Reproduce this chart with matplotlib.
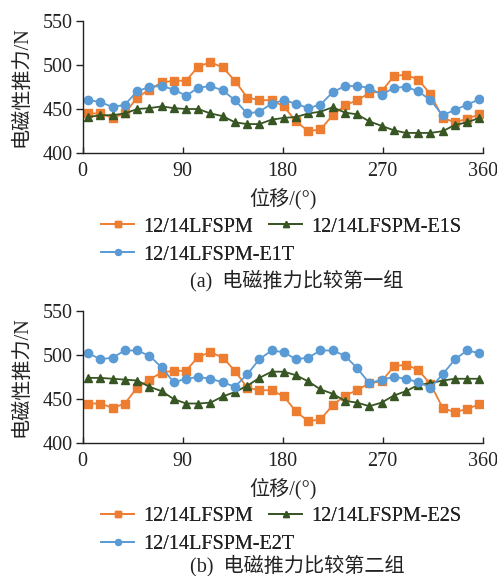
import matplotlib
matplotlib.use("Agg")
import matplotlib.pyplot as plt
import numpy as np

# ---- data ----
x_deg = [5 + 11 * i for i in range(33)]

lfspm = [445, 445, 440, 445, 463, 472, 480, 482, 482, 498, 503, 497, 482, 463, 460, 460,
         453, 436, 425, 427, 443, 454, 460, 468, 470, 487, 489, 483, 467, 440, 435, 439, 444]

e1t = [460, 458, 452, 455, 470, 475, 476, 472, 465, 474, 476, 471, 460, 445, 447, 456,
       460, 456, 451, 455, 469, 476, 476, 474, 466, 474, 475, 470, 460, 443, 449, 455, 461]

e1s = [441, 443, 443, 445, 450, 451, 453, 451, 450, 450, 445, 442, 435, 433, 433, 438,
       440, 441, 445, 447, 452, 446, 444, 436, 431, 426, 423, 423, 423, 425, 432, 435, 440]

e2t = [502, 495, 497, 505, 505, 499, 486, 469, 473, 475, 473, 469, 464, 478, 495, 505,
       503, 495, 497, 505, 505, 499, 485, 468, 472, 475, 473, 469, 463, 478, 495, 505, 502]

e2s = [474, 474, 473, 472, 471, 464, 459, 450, 445, 445, 446, 453, 458, 465, 474, 481,
       481, 477, 470, 461, 456, 448, 446, 442, 446, 454, 459, 466, 468, 471, 473, 473, 473]

x_ticks = [0, 90, 180, 270, 360]
y_ticks = [400, 450, 500, 550]

labels_a = ["12/14LFSPM", "12/14LFSPM-E1S", "12/14LFSPM-E1T"]
labels_b = ["12/14LFSPM", "12/14LFSPM-E2S", "12/14LFSPM-E2T"]
captions = ["(a)  电磁推力比较第一组", "(b)  电磁推力比较第二组"]
xlabel = "位移/(°)"
ylabel = "电磁性推力/N"

# ---- style ----
ORANGE = "#ED7D31"
GREEN = "#375623"
BLUE = "#5B9BD5"
TXT = "#222222"
FAM = ["Liberation Serif", "Noto Sans CJK SC", "DejaVu Sans"]
plt.rcParams["font.family"] = FAM
FS = 14.5

W, H = 497, 576
fig = plt.figure(figsize=(W / 100, H / 100), dpi=100)


def px_axes(left, top, right, bottom):
    return fig.add_axes([left / W, 1 - bottom / H, (right - left) / W, (bottom - top) / H])


def one_legend(handle, label, xpx, ypx):
    leg = fig.legend([handle], [label], loc="center left",
                     bbox_to_anchor=(xpx / W, 1 - ypx / H), frameon=False, fontsize=FS,
                     handlelength=1.65, handletextpad=0.45, borderpad=0,
                     borderaxespad=0, markerscale=0.7)
    for t in leg.get_texts():
        t.set_color(TXT)
    fig.add_artist(leg)


def draw(ax, s2, s3, labs, cap, row1, row2, capy):
    l1, = ax.plot(x_deg, lfspm, color=ORANGE, lw=1.3, marker="s", ms=5.5, label=labs[0])
    l2, = ax.plot(x_deg, s2, color=GREEN, lw=1.3, marker="^", ms=5.5, label=labs[1])
    l3, = ax.plot(x_deg, s3, color=BLUE, lw=1.3, marker="o", ms=6, label=labs[2])
    ax.set_xlim(0, 360)
    ax.set_ylim(400, 550)
    ax.set_xticks(x_ticks)
    ax.set_yticks(y_ticks)
    for s in ["top", "right"]:
        ax.spines[s].set_visible(False)
    for s in ["left", "bottom"]:
        ax.spines[s].set_linewidth(1.0)
        ax.spines[s].set_color(TXT)
    ax.tick_params(axis="x", direction="in", length=4, width=1, labelsize=FS, pad=6.5, colors=TXT)
    ax.tick_params(axis="y", direction="out", length=5, width=1, labelsize=FS, pad=2, colors=TXT)
    ax.set_ylabel(ylabel, fontsize=FS, labelpad=8, color=TXT)
    ax.set_xlabel(xlabel, fontsize=FS, labelpad=5, color=TXT)
    one_legend(l1, labs[0], 101, row1)
    one_legend(l2, labs[1], 269, row1)
    one_legend(l3, labs[2], 101, row2)
    fig.text(297 / W, 1 - capy / H, cap, fontsize=FS, ha="center", va="center", color=TXT)


ax1 = px_axes(82.7, 20.5, 482.7, 153.3)
draw(ax1, e1s, e1t, labels_a, captions[0], 227, 255, 281)
ax2 = px_axes(82.7, 310.7, 482.7, 443.3)
draw(ax2, e2s, e2t, labels_b, captions[1], 516, 544, 566)

fig.savefig("out.png", dpi=100)
